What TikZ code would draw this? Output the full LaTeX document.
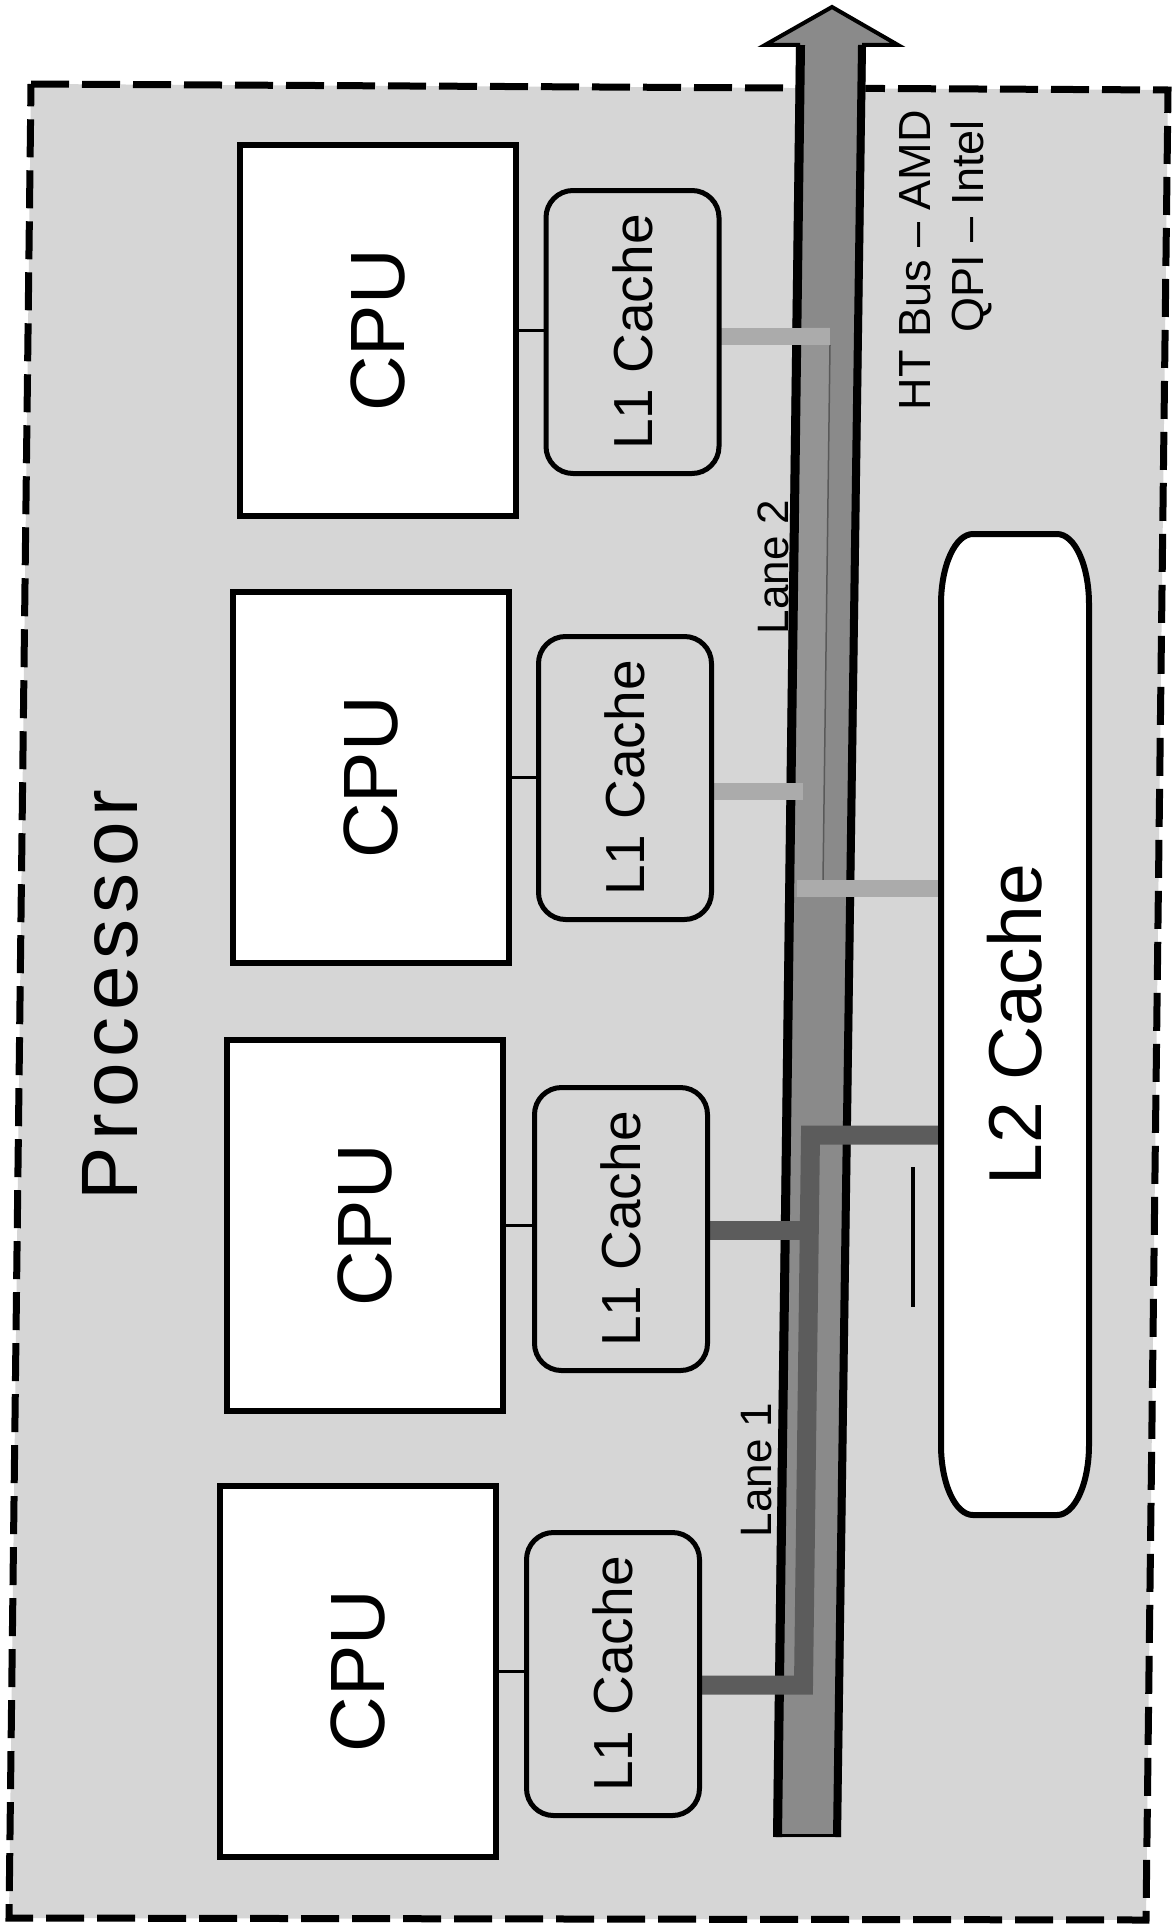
\documentclass[tikz,border=0pt]{standalone}
\usepackage{graphicx}
\usepackage{fontspec}
\setmainfont{Liberation Sans}
\usetikzlibrary{calc}
\pgfdeclarelayer{bg}
\pgfsetlayers{bg,main}
\definecolor{paper}{HTML}{D6D6D6}
\definecolor{busgray}{HTML}{8A8A8A}
\definecolor{lanelight}{HTML}{ABABAB}
\definecolor{lanestrip}{HTML}{949494}
\definecolor{lanedark}{HTML}{5C5C5C}
\tikzset{
  cpubox/.style={draw=black, line width=6pt, fill=white, minimum width=276pt, minimum height=371pt,
    inner sep=0pt, outer sep=0pt, font=\fontsize{77}{80}\selectfont},
  lonebox/.style={draw=black, line width=5pt, fill=paper, rounded corners=27pt, minimum width=173pt,
    minimum height=283pt, inner sep=0pt, outer sep=0pt, font=\fontsize{55}{60}\selectfont},
  ltwobox/.style={draw=none, minimum width=148pt, minimum height=981pt, inner sep=0pt, outer sep=0pt,
    font=\fontsize{75}{80}\selectfont},
  thinlink/.style={draw=black, line width=3pt},
  barlight/.style={draw=lanelight, line width=17pt},
  bardark/.style={draw=lanedark, line width=19pt, line join=miter},
  lanelabel/.style={rotate=90, inner sep=0pt, font=\fontsize{44}{50}\selectfont},
  buslabel/.style={rotate=90, inner sep=0pt, anchor=base east, font=\fontsize{45}{50}\selectfont},
}
\begin{document}
\begin{tikzpicture}[x=1pt,y=-1pt]
\useasboundingbox (0,0) rectangle (1171,1927);

% CPUs
\node[cpubox] (cpu1) at (378,330.5) {\rotatebox{90}{CPU}};
\node[cpubox] (cpu2) at (371,777.5) {\rotatebox{90}{CPU}};
\node[cpubox] (cpu3) at (364.5,1225.5) {\rotatebox{90}{CPU}};
\node[cpubox] (cpu4) at (357.5,1671) {\rotatebox{90}{CPU}};

% L1 caches
\node[lonebox] (l11) at (632.5,332) {\rotatebox{90}{L1 Cache}};
\node[lonebox] (l12) at (625,778) {\rotatebox{90}{L1 Cache}};
\node[lonebox] (l13) at (621,1229) {\rotatebox{90}{L1 Cache}};
\node[lonebox] (l14) at (613,1674) {\rotatebox{90}{L1 Cache}};

% L2 cache outline (elliptic corners)
\draw[line width=6pt, fill=white]
  (941,604) .. controls (941,565.3) and (955.3,534) .. (973,534)
  -- (1057,534) .. controls (1074.7,534) and (1089,565.3) .. (1089,604)
  -- (1089,1445) .. controls (1089,1483.7) and (1074.7,1515) .. (1057,1515)
  -- (973,1515) .. controls (955.3,1515) and (941,1483.7) .. (941,1445) -- cycle;
\node[ltwobox] (l2) at (1015,1024.5) {\rotatebox{90}{L2 Cache}};

% CPU - L1 links
\draw[thinlink] (cpu1.east) -- (cpu1.east -| l11.west);
\draw[thinlink] (cpu2.east) -- (cpu2.east -| l12.west);
\draw[thinlink] (cpu3.east) -- (cpu3.east -| l13.west);
\draw[thinlink] (cpu4.east) -- (cpu4.east -| l14.west);

% labels
\node[rotate=90, anchor=base, inner sep=0pt,
  font=\fontsize{80}{90}\selectfont\addfontfeature{LetterSpace=8}] (proc) at (137,995) {Processor};
\node[lanelabel] (lane2) at (773,567) {Lane 2};
\node[lanelabel] (lane1) at (757,1470) {Lane 1};
\node[buslabel] (ht) at (930,110) {HT Bus – AMD};
\node[buslabel] (qpi) at (983,120) {QPI – Intel};

% small mark beside L2
\draw[line width=3.5pt] (913,1167) -- (913,1307);

\begin{pgfonlayer}{bg}
  \fill[white] (0,0) rectangle (1171,1927);
  % processor frame
  \draw[fill=paper, line width=7pt, dash pattern=on 38pt off 13pt]
    (31,84) -- (1168,90) -- (1146,1920) -- (9,1918) -- cycle;
  % bus arrow
  \fill[busgray] (796,47) -- (763,47) -- (832,5) -- (900,47) -- (866,47)
    -- (841,1837) -- (773,1837) -- cycle;
  % lane 2 strip
  \fill[lanestrip] (801,327.5) -- (830,327.5) -- (823,897) -- (794,897) -- cycle;
  \draw[line width=1.5pt, black!65] (830,345) -- (823,880);
  % outlines
  \draw[line width=4pt, line join=miter] (800,45) -- (765,45) -- (832,7) -- (898,45) -- (862,45);
  \draw[line width=9pt] (800.5,45) -- (777.5,1837);
  \draw[line width=8pt] (862,45) -- (837,1837);
  \draw[line width=3pt] (773,1835.5) -- (841,1835.5);
  % lane 2 bars
  \coordinate (b2a) at (830,336);
  \coordinate (b2b) at (803,791);
  \coordinate (b2c) at (797,888.5);
  \draw[barlight] (l11.east |- b2a) -- (b2a);
  \draw[barlight] (l12.east |- b2b) -- (b2b);
  \draw[barlight] (b2c) -- (l2.west |- b2c);
  % lane 1
  \coordinate (b1a) at (803.5,1685);
  \coordinate (b1c) at (810.5,1135);
  \coordinate (b1b) at (806,1230);
  \draw[bardark] (l14.east |- b1a) -- (b1a) -- (b1c) -- (l2.west |- b1c);
  \draw[bardark] (l13.east |- b1b) -- (b1b);
\end{pgfonlayer}
\end{tikzpicture}
\end{document}
